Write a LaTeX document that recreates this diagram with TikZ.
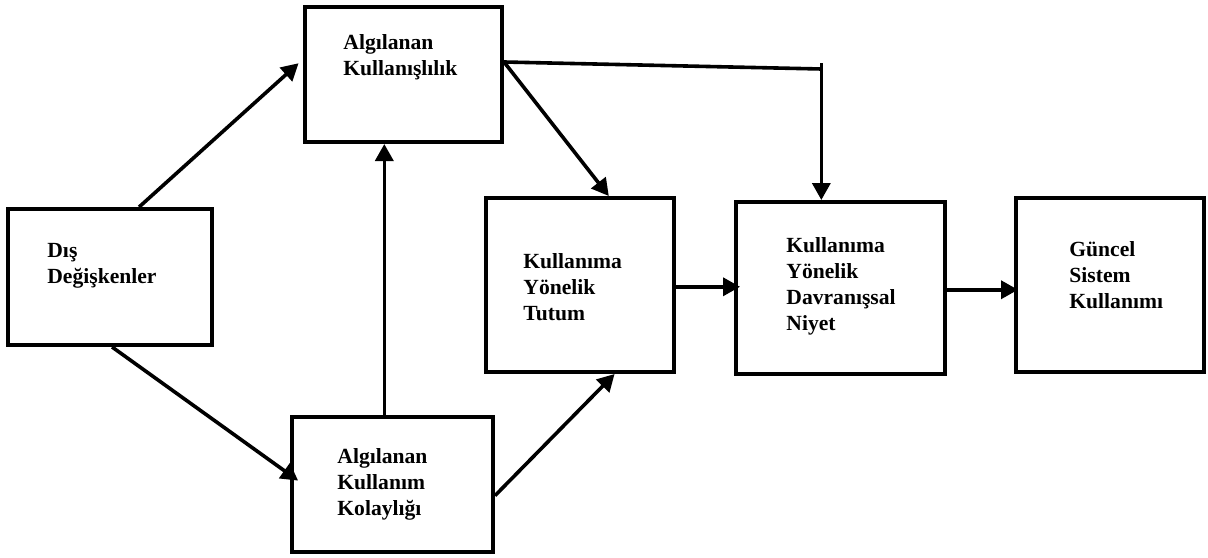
\documentclass[tikz,border=0pt]{standalone}
\usepackage{fontspec}
\setmainfont{Liberation Serif}
\usetikzlibrary{arrows.meta,calc,fit}
\begin{document}
\begin{tikzpicture}[x=0.5pt,y=-0.5pt,
  box/.style={draw=black,line width=2pt,inner sep=0pt,rectangle},
  txt/.style={align=left,inner sep=0pt,font=\fontsize{10.8}{13}\selectfont\bfseries},
  conn/.style={line width=1.8pt,line cap=butt},
  arr/.style={conn,-{Triangle[length=8.5pt,width=9pt]}}]
\useasboundingbox (0,0) rectangle (1208,557);
% boxes
\node[box,fit={(8,209)(212,345)}] (dis) {};
\node[box,fit={(305,7)(502,142)}] (ak) {};
\node[box,fit={(292,417)(493,552)}] (akk) {};
\node[box,fit={(486,198)(674,372)}] (tut) {};
\node[box,fit={(736,202)(945,374)}] (niy) {};
\node[box,fit={(1016,198)(1204,372)}] (gun) {};
% texts (anchor = baseline of last line)
\node[txt,anchor=base west] (disT) at (47,283) {Dış\\Değişkenler};
\node[txt,anchor=base west] (akT) at (343,75) {Algılanan\\Kullanışlılık};
\node[txt,anchor=base west] (akkT) at (337,515) {Algılanan\\Kullanım\\Kolaylığı};
\node[txt,anchor=base west] (tutT) at (523,320) {Kullanıma\\Yönelik\\Tutum};
\node[txt,anchor=base west] (niyT) at (786,330) {Kullanıma\\Yönelik\\Davranışsal\\Niyet};
\node[txt,anchor=base west] (gunT) at (1069,308) {Güncel\\Sistem\\Kullanımı};
% connectors
\draw[arr,shorten >=3pt] ($(dis.north west)!0.64!(dis.north east)$) -- ($(ak.north west)!0.39!(ak.south west)$);
\draw[arr,shorten >=-5pt] ($(dis.south west)!0.51!(dis.south east)$) -- ($(akk.north west)!0.43!(akk.south west)$);
\coordinate (akkN) at ($(akk.north west)!0.46!(akk.north east)$);
\draw[arr] (akkN) -- (akkN |- ak.south);
\coordinate (akE) at ($(ak.north east)!0.41!(ak.south east)$);
\draw[arr] (akE) -- ($(tut.north west)!0.65!(tut.north east)$);
\coordinate (niyN) at ($(niy.north west)!0.41!(niy.north east)$);
\coordinate (cor) at (niyN |- 0,69);
\draw[conn] (akE) -- (cor);
\draw[arr] ($(cor)+(0,-6)$) -- (niyN);
\draw[arr] ($(akk.north east)!0.58!(akk.south east)$) -- ($(tut.south west)!0.68!(tut.south east)$);
\coordinate (tutE) at ($(tut.north east)!0.51!(tut.south east)$);
\draw[arr,shorten >=-3pt] (tutE) -- (tutE -| niy.west);
\coordinate (niyE) at ($(niy.north east)!0.51!(niy.south east)$);
\draw[arr,shorten >=-2pt] (niyE) -- (niyE -| gun.west);
\end{tikzpicture}
\end{document}
